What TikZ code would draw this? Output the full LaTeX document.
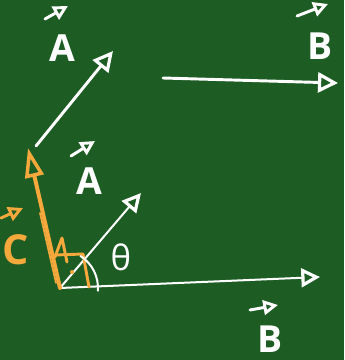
\documentclass[tikz,border=0pt]{standalone}
\usepackage{fontspec}
\setmainfont{Open Sans}
\usetikzlibrary{arrows.meta}
\definecolor{board}{RGB}{29,93,36}
\definecolor{chalkorange}{RGB}{245,168,60}

\tikzset{
  vec/.style={white,line width=2.2pt,line cap=round,-{Triangle[open,length=15pt,width=15pt,line width=2.4pt]}},
  thinvec/.style={white,line width=1.5pt,line cap=round,-{Triangle[open,length=14pt,width=14pt,line width=2.4pt]}},
  hat/.style={line width=2.2pt,line cap=round,-{Triangle[open,length=11pt,width=11pt,line width=2.2pt]}},
  tag/.style={text=white,font=\fontsize{28}{30}\selectfont\bfseries}
}

\begin{document}
\begin{tikzpicture}[x=0.75pt,y=-0.75pt]
\fill[board] (0,0) rectangle (344,360);
\useasboundingbox (0,0) rectangle (344,360);

\coordinate (O) at (60,288);
\coordinate (topAs) at (36,146);
\coordinate (topAe) at (113,51);
\coordinate (topBs) at (163,78);
\coordinate (topBe) at (338,83);
\coordinate (Ae) at (141,193);
\coordinate (Be) at (320,277);
\coordinate (Ce) at (28,148);

% vectors
\draw[vec] (topAs) -- (topAe);
\draw[vec] (topBs) -- (topBe);
\draw[thinvec] (O) -- (Ae);
\draw[thinvec] (O) -- (Be);
\draw[chalkorange,line width=3pt,line cap=round,-{Triangle[open,length=22pt,width=14pt,line width=2.6pt]}] (O) -- (Ce);
\draw[chalkorange,line width=1.3pt,line cap=round] (40,213) -- (56,283);

% right angle marks
\draw[chalkorange,line width=2.2pt,line cap=round,line join=round] (55,257) -- (62,238) -- (67,262);
\draw[chalkorange,line width=2.2pt,line cap=round,line join=round] (55,255) -- (83,254) -- (89,287);
\fill[chalkorange] (72,272) circle (2);

% angle
\draw[white,line width=1.5pt] (O) ++(-58:38) arc[start angle=-58,end angle=5,radius=38];
\node[tag,font=\fontsize{26}{28}\selectfont] (theta) at (121,257) {θ};

% labels
\node[tag] (lblA1) at (62,48) {A};
\node[tag] (lblB1) at (320,46) {B};
\node[tag] (lblA2) at (89,181) {A};
\node[tag] (lblB2) at (270,339) {B};
\node[tag,text=chalkorange,font=\fontsize{31}{33}\selectfont\bfseries] (lblC) at (16,250) {C};

\coordinate (hA1s) at (45,19);  \coordinate (hA1e) at (68,6);
\coordinate (hB1s) at (297,16); \coordinate (hB1e) at (328,4);
\coordinate (hA2s) at (71,156); \coordinate (hA2e) at (95,141);
\coordinate (hB2s) at (250,310); \coordinate (hB2e) at (278,305);
\coordinate (hCs) at (1,218);   \coordinate (hCe) at (23,208);
\draw[hat,white] (hA1s) -- (hA1e);
\draw[hat,white] (hB1s) -- (hB1e);
\draw[hat,white] (hA2s) -- (hA2e);
\draw[hat,white] (hB2s) -- (hB2e);
\draw[hat,chalkorange] (hCs) -- (hCe);

\end{tikzpicture}
\end{document}
